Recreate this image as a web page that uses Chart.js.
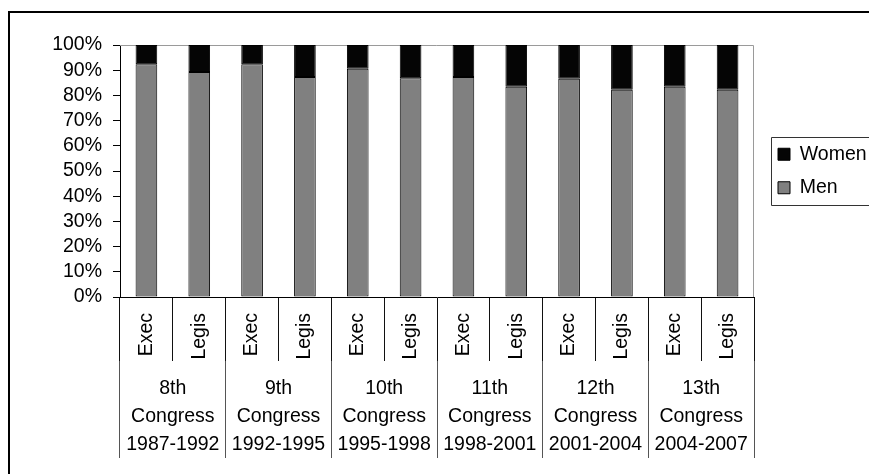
<!DOCTYPE html>
<html>
<head>
<meta charset="utf-8">
<script src="https://cdn.jsdelivr.net/npm/chart.js@4/dist/chart.umd.min.js"></script>
<style>
  html, body { margin: 0; padding: 0; background: #fff; overflow: hidden; }
  canvas { display: block; }
</style>
</head>
<body>
<canvas id="chart" width="869" height="474"></canvas>
<script>
// Branch of government for each bar
const branchLabels = ['Exec', 'Legis', 'Exec', 'Legis', 'Exec', 'Legis',
                      'Exec', 'Legis', 'Exec', 'Legis', 'Exec', 'Legis'];

// Congress grouping shown under each pair of bars
const congressLabels = [
  ['8th', 'Congress', '1987-1992'],
  ['9th', 'Congress', '1992-1995'],
  ['10th', 'Congress', '1995-1998'],
  ['11th', 'Congress', '1998-2001'],
  ['12th', 'Congress', '2001-2004'],
  ['13th', 'Congress', '2004-2007']
];

// Share of posts held (%)
const menShare   = [92.4, 89.3, 92.4, 87.3, 90.6, 86.8, 87.3, 83.4, 86.6, 82.2, 83.4, 82.2];
const womenShare = [7.6, 10.7, 7.6, 12.7, 9.4, 13.2, 12.7, 16.6, 13.4, 17.8, 16.6, 17.8];

// Percent axis tick labels
const percentTicks = ['0%', '10%', '20%', '30%', '40%', '50%', '60%', '70%', '80%', '90%', '100%'];

const FONT = { family: "'Liberation Sans', Arial, sans-serif", size: 19.5 };

// Outer frame, plot-area outline and legend box
const decorations = {
  id: 'decorations',
  beforeDraw(chart) {
    const c = chart.ctx;
    c.save();
    c.strokeStyle = '#000';
    c.lineWidth = 2;
    c.beginPath();
    c.moveTo(9, chart.height + 5);
    c.lineTo(9, 12);
    c.lineTo(chart.width + 5, 12);
    c.stroke();
    c.restore();
  },
  beforeDatasetsDraw(chart) {
    const a = chart.chartArea;
    const c = chart.ctx;
    c.save();
    c.strokeStyle = '#9a9a9a';
    c.lineWidth = 1;
    c.beginPath();
    c.moveTo(a.left, a.top + 0.5);
    c.lineTo(a.right - 0.5, a.top + 0.5);
    c.lineTo(a.right - 0.5, a.bottom);
    c.stroke();
    c.restore();
  },
  afterDraw(chart) {
    const hb = chart.legend && chart.legend.legendHitBoxes;
    if (!hb || hb.length < 2) return;
    const c = chart.ctx;
    const x = Math.round(hb[0].left - 7) + 0.5;
    const y = Math.round(hb[0].top - 8) + 0.5;
    const b = Math.round(hb[1].top + hb[1].height + 7) + 0.5;
    c.save();
    c.strokeStyle = '#333';
    c.lineWidth = 1;
    c.beginPath();
    c.moveTo(chart.width + 5, y);
    c.lineTo(x, y);
    c.lineTo(x, b);
    c.lineTo(chart.width + 5, b);
    c.stroke();
    c.restore();
  }
};

new Chart(document.getElementById('chart'), {
  type: 'bar',
  data: {
    labels: branchLabels,
    datasets: [
      { label: 'Men', data: menShare, backgroundColor: '#808080', borderColor: '#000',
        borderWidth: 1, borderSkipped: false, xAxisID: 'x', yAxisID: 'y' },
      { label: 'Women', data: womenShare, backgroundColor: '#050505', borderColor: '#000',
        borderWidth: 1, borderSkipped: false, xAxisID: 'x', yAxisID: 'y' }
    ]
  },
  options: {
    responsive: false,
    animation: false,
    barPercentage: 0.41,
    categoryPercentage: 1,
    layout: { padding: { top: 45, left: 0, right: 0, bottom: 0 } },
    plugins: {
      legend: {
        position: 'right',
        fullSize: false,
        reverse: true,
        maxWidth: 105,
        labels: { boxWidth: 12, boxHeight: 12, padding: 14, color: '#000', font: FONT }
      },
      tooltip: { enabled: false }
    },
    scales: {
      x: {
        stacked: true,
        weight: 0,
        offset: true,
        grid: { offset: true, drawOnChartArea: false, tickLength: 64, color: '#111', lineWidth: 1 },
        border: { display: true, color: '#000', width: 1 },
        ticks: { autoSkip: false, minRotation: 90, maxRotation: 90, padding: -48, color: '#000', font: FONT },
        afterFit(s) { s.height = 64; }
      },
      x2: {
        type: 'category',
        labels: congressLabels,
        position: 'bottom',
        weight: 1,
        offset: true,
        grid: { offset: true, drawOnChartArea: false, tickLength: 97, color: '#555', lineWidth: 1 },
        border: { display: false },
        ticks: { autoSkip: false, maxRotation: 0, minRotation: 0, padding: -83, color: '#000',
                 font: Object.assign({}, FONT, { lineHeight: 1.42 }) },
        afterFit(s) { s.height = 113; }
      },
      y: {
        stacked: true,
        min: 0,
        max: 100,
        ticks: { stepSize: 10, autoSkip: false, padding: 11, color: '#000', font: FONT,
                 callback: (v, i) => percentTicks[i] },
        grid: { drawOnChartArea: false, tickLength: 7, color: '#000' },
        border: { color: '#000', width: 1 },
        afterFit(s) { s.width = 120; }
      },
      spacer: {
        type: 'linear',
        position: 'right',
        display: true,
        grid: { display: false },
        ticks: { display: false },
        border: { display: false },
        afterFit(s) { s.width = 10; }
      }
    }
  },
  plugins: [decorations]
});
</script>
</body>
</html>
